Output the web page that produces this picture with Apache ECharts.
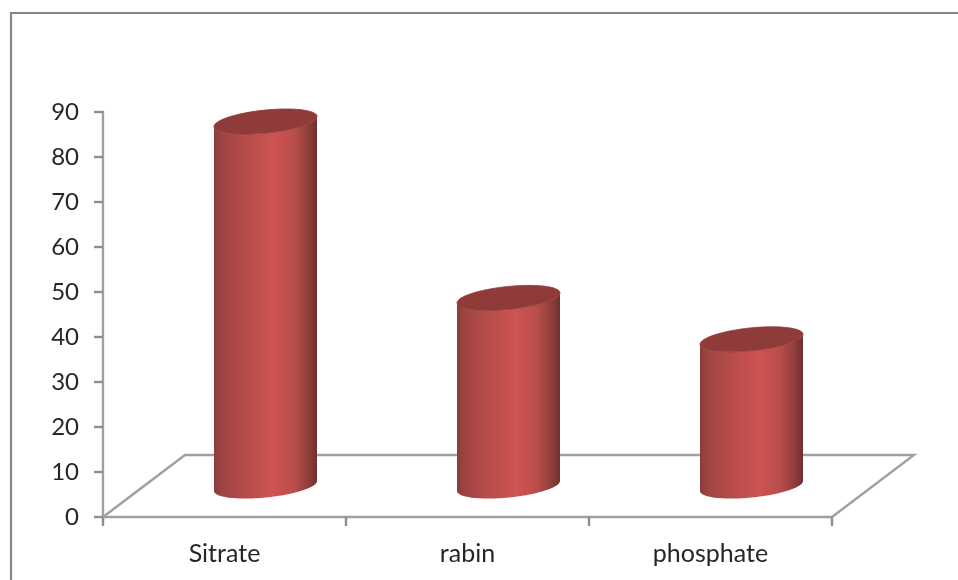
<!DOCTYPE html>
<html>
<head>
<meta charset="utf-8">
<style>html,body{margin:0;padding:0;background:#fff}#c{width:958px;height:580px}</style>
<script src="https://cdn.jsdelivr.net/npm/echarts@6/dist/echarts.min.js"></script>
</head>
<body>
<div id="c"></div>
<script>
const categories = ['Sitrate', 'rabin', 'phosphate'];
const values = [81, 41.8, 32.6];
const yTicks = { min: 0, max: 90, interval: 10 };

const depthX = 41, depthY = 31;     // half-depth shift of the 3D floor
const radius = 51.5, tilt = 5, minor = 11.5;

function ellipse(cx, cy, from, to) {
  const pts = [];
  for (let i = 0; i <= 60; i++) {
    const t = from + (to - from) * i / 60;
    pts.push([cx + radius * Math.cos(t), cy + minor * Math.sin(t) - tilt * Math.cos(t)]);
  }
  return pts;
}

function renderFloor(params, api) {
  const r = params.coordSys;
  const x0 = r.x, x1 = r.x + r.width, y = r.y + r.height;
  return {
    type: 'polyline',
    shape: { points: [[x0, y], [x0 + 2 * depthX, y - 2 * depthY], [x1 + 2 * depthX, y - 2 * depthY], [x1, y]] },
    style: { fill: null, stroke: '#a0a0a0', lineWidth: 2.4 }
  };
}

function renderCylinder(params, api) {
  const base = api.coord([api.value(0), 0]);
  const top = api.coord([api.value(0), api.value(1)]);
  const cx = base[0] + depthX, by = base[1] - depthY, ty = top[1] - depthY;
  const body = ellipse(cx, by, 0, Math.PI).concat(ellipse(cx, ty, Math.PI, 0));
  return {
    type: 'group',
    children: [
      {
        type: 'polygon',
        shape: { points: body },
        style: {
          fill: new echarts.graphic.LinearGradient(0, 0, 1, 0, [
            { offset: 0, color: '#8a3c3b' },
            { offset: 0.08, color: '#a04443' },
            { offset: 0.3, color: '#b64c4a' },
            { offset: 0.58, color: '#cd5452' },
            { offset: 0.78, color: '#b84d4b' },
            { offset: 0.92, color: '#8e3d3c' },
            { offset: 1, color: '#6f2f2e' }
          ])
        }
      },
      {
        type: 'polygon',
        shape: { points: ellipse(cx, ty, 0, Math.PI * 2) },
        style: { fill: '#8f3b3a', stroke: '#8f3b3a', lineWidth: 0.8 }
      }
    ]
  };
}

const chart = echarts.init(document.getElementById('c'), null, { renderer: 'canvas' });
chart.setOption({
  animation: false,
  backgroundColor: '#fff',
  grid: { left: 103, right: 126, top: 112, bottom: 63 },
  graphic: [{
    type: 'polyline',
    shape: { points: [[11, 580], [11, 13], [958, 13]] },
    style: { fill: null, stroke: '#858585', lineWidth: 2.2 }
  }],
  xAxis: {
    type: 'category',
    data: categories,
    axisLine: { lineStyle: { color: '#a0a0a0', width: 2.4 } },
    axisTick: { show: true, length: 9, lineStyle: { color: '#8e8e8e', width: 2.4 } },
    axisLabel: { fontFamily: 'Lato', fontSize: 25, color: '#262626', margin: 24 }
  },
  yAxis: {
    type: 'value',
    min: yTicks.min, max: yTicks.max, interval: yTicks.interval,
    axisLine: { show: true, lineStyle: { color: '#a0a0a0', width: 2.4 } },
    axisTick: { show: true, length: 9, lineStyle: { color: '#8e8e8e', width: 2.4 } },
    axisLabel: { fontFamily: 'Lato', fontSize: 24, color: '#262626', margin: 24, padding: [6, 0, 0, 0] },
    splitLine: { show: false }
  },
  series: [
    { type: 'custom', coordinateSystem: 'cartesian2d', renderItem: renderFloor, data: [[0, 0]], z: 1, silent: true },
    { type: 'custom', coordinateSystem: 'cartesian2d', renderItem: renderCylinder,
      data: values.map((v, i) => [i, v]), encode: { x: 0, y: 1 }, z: 5 }
  ]
});
</script>
</body>
</html>
